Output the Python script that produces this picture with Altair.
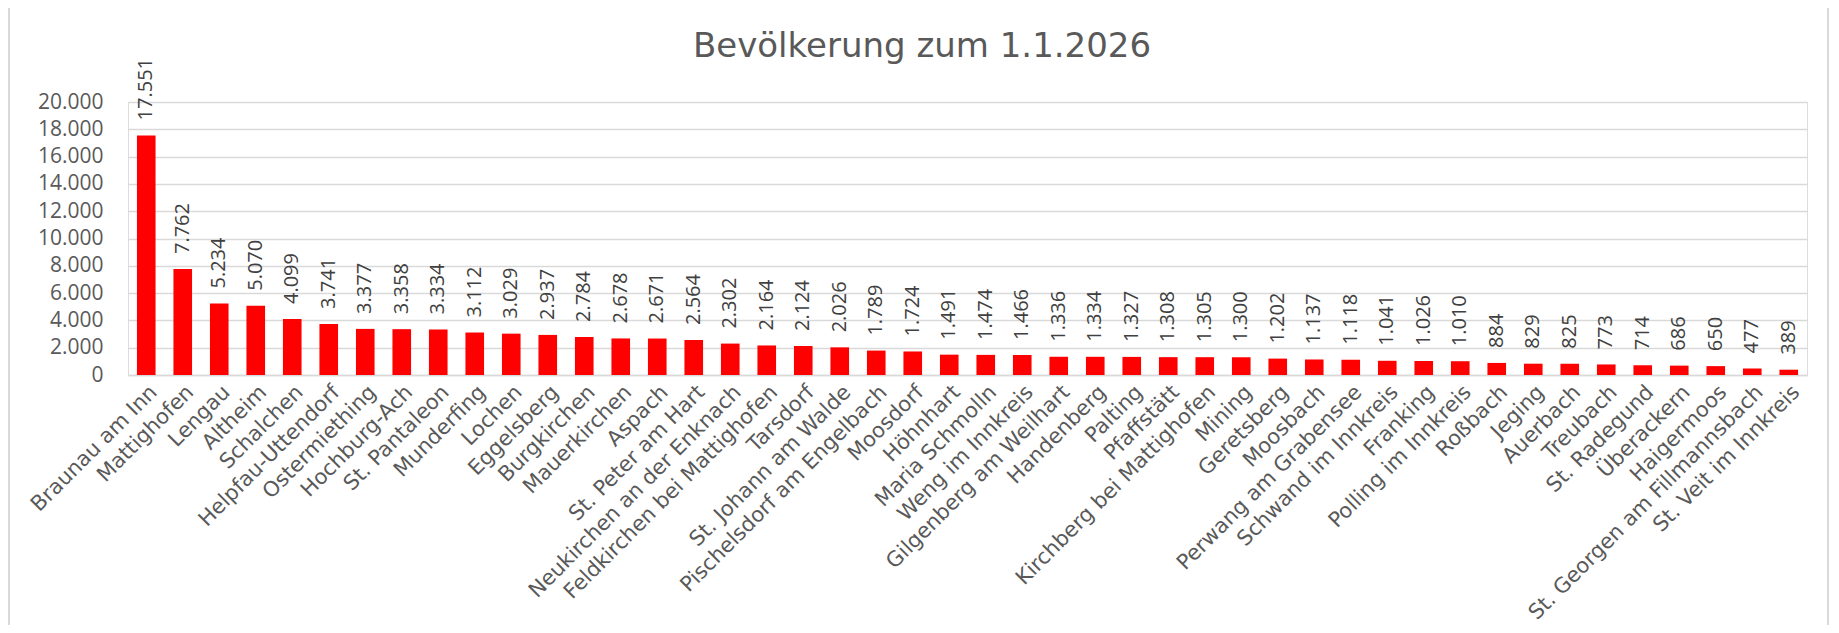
import altair as alt
import pandas as pd

gemeinden = [
    "Braunau am Inn", "Mattighofen", "Lengau", "Altheim", "Schalchen",
    "Helpfau-Uttendorf", "Ostermiething", "Hochburg-Ach", "St. Pantaleon",
    "Munderfing", "Lochen", "Eggelsberg", "Burgkirchen", "Mauerkirchen",
    "Aspach", "St. Peter am Hart", "Neukirchen an der Enknach",
    "Feldkirchen bei Mattighofen", "Tarsdorf", "St. Johann am Walde",
    "Pischelsdorf am Engelbach", "Moosdorf", "Höhnhart", "Maria Schmolln",
    "Weng im Innkreis", "Gilgenberg am Weilhart", "Handenberg", "Palting",
    "Pfaffstätt", "Kirchberg bei Mattighofen", "Mining", "Geretsberg",
    "Moosbach", "Perwang am Grabensee", "Schwand im Innkreis", "Franking",
    "Polling im Innkreis", "Roßbach", "Jeging", "Auerbach", "Treubach",
    "St. Radegund", "Überackern", "Haigermoos",
    "St. Georgen am Fillmannsbach", "St. Veit im Innkreis",
]

einwohner = [
    17551, 7762, 5234, 5070, 4099, 3741, 3377, 3358, 3334, 3112, 3029,
    2937, 2784, 2678, 2671, 2564, 2302, 2164, 2124, 2026, 1789, 1724,
    1491, 1474, 1466, 1336, 1334, 1327, 1308, 1305, 1300, 1202, 1137,
    1118, 1041, 1026, 1010, 884, 829, 825, 773, 714, 686, 650, 477, 389,
]

y_ticks = [0, 2000, 4000, 6000, 8000, 10000, 12000, 14000, 16000, 18000, 20000]

title_text = ["Bevölkerung zum 1.1.2026"]

df = pd.DataFrame({"Gemeinde": gemeinden, "Einwohner": einwohner})

base = alt.Chart(df).encode(
    x=alt.X(
        "Gemeinde:N",
        sort=None,
        scale=alt.Scale(paddingInner=0.49, paddingOuter=0.245),
        axis=alt.Axis(
            title=None,
            labelAngle=-45,
            labelAlign="right",
            labelBaseline="top",
            labelFont="DejaVu Sans",
            labelFontSize=21,
            labelColor="#595959",
            labelPadding=6,
            labelOverlap=False,
            labelLimit=0,
            ticks=False,
            domain=True,
            domainColor="#d9d9d9",
            domainWidth=1.5,
        ),
    ),
    y=alt.Y(
        "Einwohner:Q",
        scale=alt.Scale(domain=[0, 20000], nice=False),
        axis=alt.Axis(
            title=None,
            values=y_ticks,
            format=",d",
            grid=True,
            gridColor="#d9d9d9",
            gridWidth=1.5,
            domain=False,
            ticks=False,
            labelFont="Open Sans",
            labelFontSize=21,
            labelColor="#595959",
            labelPadding=25,
        ),
    ),
)

bars = base.mark_bar(color="#ff0000")

labels = base.mark_text(
    angle=270,
    align="left",
    baseline="middle",
    dx=15,
    font="Open Sans",
    fontSize=20,
    color="#404040",
).encode(text=alt.Text("Einwohner:Q", format=",d"))

title = alt.Chart(pd.DataFrame({"t": title_text})).mark_text(
    font="DejaVu Sans",
    fontSize=34,
    color="#595959",
    align="center",
    baseline="alphabetic",
).encode(text="t:N", x=alt.value(794), y=alt.value(-45))

border = alt.Chart(pd.DataFrame({"r": [0]})).mark_rect(
    fillOpacity=0, stroke="#d9d9d9", strokeWidth=2
).encode(
    x=alt.value(-119), x2=alt.value(1700), y=alt.value(-120), y2=alt.value(560)
)

chart = (
    alt.layer(border, bars, labels, title)
    .properties(
        width=1679,
        height=273,
        autosize="none",
        padding={"left": 120, "top": 94, "right": 24, "bottom": 250},
    )
    .configure_view(strokeWidth=0)
    .configure(
        locale={
            "number": {
                "decimal": ",",
                "thousands": ".",
                "grouping": [3],
                "currency": ["", " €"],
            }
        }
    )
)

chart.save("out.html", embed_options={"renderer": "svg", "actions": False})
